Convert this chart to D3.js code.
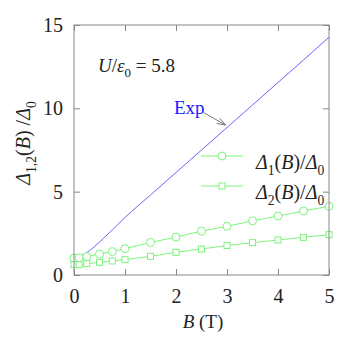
<!DOCTYPE html>
<html>
<head>
<meta charset="utf-8">
<script src="https://cdn.jsdelivr.net/npm/d3@7"></script>
<style>
  body { margin: 0; background: #fff; }
  svg text { font-family: "Liberation Serif", "Times New Roman", Times, serif !important; }
</style>
</head>
<body>
<svg width="354" height="344"></svg>
<script>
// data
var fieldB = [0, 0.1, 0.25, 0.5, 0.75, 1, 1.5, 2, 2.5, 3, 3.5, 4, 4.5, 5];
var delta1 = [1.02, 1.04, 1.1, 1.26, 1.4, 1.58, 1.95, 2.28, 2.63, 2.92, 3.25, 3.54, 3.84, 4.12];
var delta2 = [0.62, 0.62, 0.68, 0.76, 0.84, 0.92, 1.12, 1.36, 1.56, 1.77, 1.94, 2.1, 2.26, 2.42];
var expB = [0, 0.1, 0.2, 0.3, 0.4, 0.5, 0.75, 1, 1.5, 2, 2.5, 3, 3.5, 4, 4.5, 5];
var expVal = [1.0, 1.1, 1.25, 1.45, 1.7, 1.98, 2.7, 3.45, 4.8, 6.15, 7.5, 8.85, 10.2, 11.55, 12.9, 14.27];
var xTicks = [0, 1, 2, 3, 4, 5];
var yTicks = [0, 5, 10, 15];

var svg = d3.select('svg');
var plotL = 74, plotR = 329, plotT = 25, plotB = 275;

var x = d3.scaleLinear().domain([0, 5]).range([plotL, plotR]);
var y = d3.scaleLinear().domain([0, 15]).range([plotB, plotT]);

var green = '#7cf57c', blue = '#6666ff', axisCol = '#888';

// helper for text with italics and subscripts
function rich(sel, parts, size) {
  parts.forEach(function(p) {
    var t = sel.append('tspan').text(p.t);
    if (p.i) t.style('font-style', 'italic');
    if (p.sub) t.attr('dy', size * 0.3).attr('font-size', size * 0.68);
    if (p.back) t.attr('dy', -size * 0.3);
  });
}

// exp line
svg.append('path')
  .datum(expB.map(function(b, i) { return [b, expVal[i]]; }))
  .attr('fill', 'none')
  .attr('stroke', blue)
  .attr('stroke-width', 1)
  .attr('d', d3.line().x(function(d) { return x(d[0]); }).y(function(d) { return y(d[1]); }).curve(d3.curveMonotoneX));

function series(vals, shape) {
  var pts = fieldB.map(function(b, i) { return [b, vals[i]]; });
  svg.append('path')
    .datum(pts)
    .attr('fill', 'none')
    .attr('stroke', green)
    .attr('stroke-width', 1)
    .attr('d', d3.line().x(function(d) { return x(d[0]); }).y(function(d) { return y(d[1]); }));
  marks(svg, pts.map(function(d) { return [x(d[0]), y(d[1])]; }), shape);
}

function marks(g, pos, shape) {
  if (shape == 'circle') {
    g.selectAll(null).data(pos).enter().append('circle')
      .attr('cx', function(d) { return d[0]; })
      .attr('cy', function(d) { return d[1]; })
      .attr('r', 4)
      .attr('fill', '#fff')
      .attr('stroke', green);
  } else {
    g.selectAll(null).data(pos).enter().append('rect')
      .attr('x', function(d) { return d[0] - 3; })
      .attr('y', function(d) { return d[1] - 3; })
      .attr('width', 6)
      .attr('height', 6)
      .attr('fill', '#fff')
      .attr('stroke', green);
  }
}

series(delta1, 'circle');
series(delta2, 'square');

// frame and ticks
svg.append('rect')
  .attr('x', plotL).attr('y', plotT)
  .attr('width', plotR - plotL).attr('height', plotB - plotT)
  .attr('fill', 'none').attr('stroke', axisCol);

svg.append('g').attr('transform', 'translate(0,' + plotB + ')')
  .call(d3.axisBottom(x).tickValues(xTicks).tickSize(-6).tickPadding(14).tickFormat(d3.format('d')))
  .call(function(g) { g.select('.domain').remove(); });
svg.append('g').attr('transform', 'translate(0,' + plotT + ')')
  .call(d3.axisTop(x).tickValues(xTicks).tickSize(-6).tickFormat(''))
  .call(function(g) { g.select('.domain').remove(); });
svg.append('g').attr('transform', 'translate(' + plotL + ',0)')
  .call(d3.axisLeft(y).tickValues(yTicks).tickSize(-6).tickPadding(11))
  .call(function(g) { g.select('.domain').remove(); });
svg.append('g').attr('transform', 'translate(' + plotR + ',0)')
  .call(d3.axisRight(y).tickValues(yTicks).tickSize(-6).tickFormat(''))
  .call(function(g) { g.select('.domain').remove(); });

svg.selectAll('g').attr('font-family', null);
svg.selectAll('.tick line').attr('stroke', axisCol);
svg.selectAll('.tick text')
  .attr('font-size', 20)
  .attr('fill', '#222');

// axis titles
var xl = svg.append('text').attr('x', 203).attr('y', 328)
  .attr('text-anchor', 'middle').attr('font-size', 19).attr('fill', '#222');
rich(xl, [{t: 'B', i: true}, {t: ' (T)'}], 19);

var yl = svg.append('text').attr('transform', 'translate(30,143) rotate(-90)')
  .attr('text-anchor', 'middle').attr('font-size', 20).attr('fill', '#222');
rich(yl, [{t: 'Δ', i: true}, {t: '1,2', sub: true}, {t: '(', back: true}, {t: 'B', i: true}, {t: ') /'}, {t: 'Δ', i: true}, {t: '0', sub: true}], 20);

// annotation
var ann = svg.append('text').attr('x', 98).attr('y', 71.5)
  .attr('font-size', 19).attr('fill', '#222');
rich(ann, [{t: 'U', i: true}, {t: '/'}, {t: 'ε', i: true}, {t: '0', sub: true}, {t: ' = 5.8', back: true}], 19);

svg.append('text').attr('x', 174).attr('y', 114)
  .attr('font-size', 19).attr('fill', '#1a1aff').text('Exp');

// arrow from label to the exp line
var ax0 = 203.5, ay0 = 112.5, ax1 = 225.5, ay1 = 125;
svg.append('line').attr('x1', ax0).attr('y1', ay0).attr('x2', ax1).attr('y2', ay1)
  .attr('stroke', '#555').attr('stroke-width', 0.8);
var ang = Math.atan2(ay1 - ay0, ax1 - ax0);
[0.35, -0.35].forEach(function(da) {
  svg.append('line').attr('x1', ax1).attr('y1', ay1)
    .attr('x2', ax1 - 9 * Math.cos(ang + da)).attr('y2', ay1 - 9 * Math.sin(ang + da))
    .attr('stroke', '#555').attr('stroke-width', 0.8);
});

// legend
var legend = [
  {shape: 'circle', y: 156, sub: '1'},
  {shape: 'square', y: 186, sub: '2'}
];
legend.forEach(function(l) {
  svg.append('line').attr('x1', 201).attr('x2', 243).attr('y1', l.y).attr('y2', l.y)
    .attr('stroke', green);
  marks(svg, [[222, l.y]], l.shape);
  var t = svg.append('text').attr('x', 256).attr('y', l.y + 13)
    .attr('font-size', 20).attr('fill', '#222');
  rich(t, [{t: 'Δ', i: true}, {t: l.sub, sub: true}, {t: '(', back: true}, {t: 'B', i: true}, {t: ')/'}, {t: 'Δ', i: true}, {t: '0', sub: true}], 20);
});
</script>
</body>
</html>
